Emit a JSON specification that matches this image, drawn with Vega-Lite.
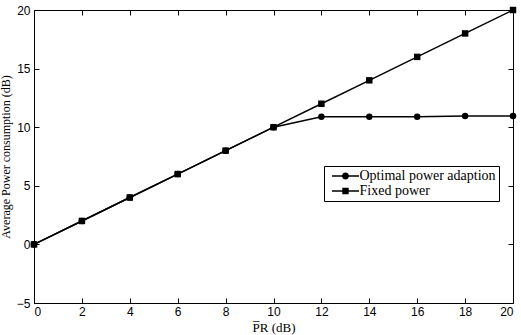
{
  "$schema": "https://vega.github.io/schema/vega-lite/v6.json",
  "width": 479,
  "height": 293,
  "autosize": {"type": "none"},
  "padding": {"left": 34, "top": 10, "right": 8, "bottom": 32},
  "background": "white",
  "config": {
    "view": {"stroke": "black", "strokeWidth": 1},
    "axis": {
      "grid": false,
      "domain": false,
      "ticks": true,
      "tickColor": "black",
      "tickWidth": 1,
      "tickSize": 5,
      "offset": -5,
      "labelFont": "Liberation Sans",
      "labelFontSize": 12,
      "labelColor": "black",
      "titleFont": "Liberation Serif",
      "titleFontSize": 13,
      "titleFontWeight": "normal",
      "titleColor": "black"
    },
    "legend": {
      "orient": "none",
      "legendX": 290,
      "legendY": 156,
      "strokeColor": "black",
      "fillColor": "white",
      "padding": 3,
      "rowPadding": 1,
      "symbolSize": 100,
      "symbolOffset": 11.5,
      "symbolFillColor": "black",
      "symbolStrokeWidth": 0,
      "labelFont": "Liberation Serif",
      "labelFontSize": 14,
      "labelColor": "black",
      "labelOffset": 7,
      "title": null
    }
  },
  "datasets": {
    "main": [
      {"x": 0, "y": 0, "series": "Optimal power adaption"},
      {"x": 2, "y": 2, "series": "Optimal power adaption"},
      {"x": 4, "y": 4, "series": "Optimal power adaption"},
      {"x": 6, "y": 6, "series": "Optimal power adaption"},
      {"x": 8, "y": 8, "series": "Optimal power adaption"},
      {"x": 10, "y": 10, "series": "Optimal power adaption"},
      {"x": 12, "y": 10.9, "series": "Optimal power adaption"},
      {"x": 14, "y": 10.9, "series": "Optimal power adaption"},
      {"x": 16, "y": 10.9, "series": "Optimal power adaption"},
      {"x": 18, "y": 10.95, "series": "Optimal power adaption"},
      {"x": 20, "y": 10.95, "series": "Optimal power adaption"},
      {"x": 0, "y": 0, "series": "Fixed power"},
      {"x": 2, "y": 2, "series": "Fixed power"},
      {"x": 4, "y": 4, "series": "Fixed power"},
      {"x": 6, "y": 6, "series": "Fixed power"},
      {"x": 8, "y": 8, "series": "Fixed power"},
      {"x": 10, "y": 10, "series": "Fixed power"},
      {"x": 12, "y": 12, "series": "Fixed power"},
      {"x": 14, "y": 14, "series": "Fixed power"},
      {"x": 16, "y": 16, "series": "Fixed power"},
      {"x": 18, "y": 18, "series": "Fixed power"},
      {"x": 20, "y": 20, "series": "Fixed power"}
    ],
    "legend": [
      {"x": -50, "y": 0, "series": "Optimal power adaption"},
      {"x": -50, "y": 0, "series": "Fixed power"}
    ]
  },
  "layer": [
    {
      "data": {"name": "main"},
      "mark": {"type": "line", "color": "black", "strokeWidth": 1.5},
      "encoding": {
        "x": {"field": "x", "type": "quantitative", "scale": {"domain": [0, 20], "nice": false},
              "axis": {"values": [0,2,4,6,8,10,12,14,16,18,20], "title": "P̅R (dB)", "labelPadding": 3, "titlePadding": 4}},
        "y": {"field": "y", "type": "quantitative", "scale": {"domain": [-5, 20], "nice": false, "zero": false},
              "axis": {"values": [-5,0,5,10,15,20], "title": "Average Power consumption (dB)", "labelPadding": 4, "titlePadding": 4, "titleFontSize": 12}},
        "detail": {"field": "series"},
        "order": {"field": "x"}
      }
    },
    {
      "data": {"name": "main"},
      "mark": {"type": "point", "filled": true, "color": "black", "opacity": 1, "size": 42},
      "encoding": {
        "x": {"field": "x", "type": "quantitative", "axis": null},
        "y": {"field": "y", "type": "quantitative", "axis": null},
        "shape": {"field": "series", "type": "nominal",
                  "scale": {"domain": ["Optimal power adaption", "Fixed power"], "range": ["circle", "square"]},
                  "legend": null}
      }
    },
    {
      "data": {"name": "legend"},
      "mark": {"type": "point", "filled": true, "color": "black", "opacity": 1, "clip": true},
      "encoding": {
        "x": {"field": "x", "type": "quantitative",
              "axis": {"orient": "top", "labels": false, "labelOpacity": 0, "title": null, "values": [0,2,4,6,8,10,12,14,16,18,20]}},
        "y": {"field": "y", "type": "quantitative",
              "axis": {"orient": "right", "labels": false, "labelOpacity": 0, "title": null, "values": [-5,0,5,10,15,20]}},
        "shape": {"field": "series", "type": "nominal",
                  "scale": {"domain": ["Optimal power adaption", "Fixed power"],
                            "range": ["M-2.7,-0.15H2.7V0.15H-2.7Z M0.7,0A0.7,0.7 0 1,1 -0.7,0A0.7,0.7 0 1,1 0.7,0Z",
                                      "M-2.7,-0.15H2.7V0.15H-2.7Z M-0.64,-0.64H0.64V0.64H-0.64Z"]},
                  "legend": {}}
      }
    }
  ],
  "resolve": {"scale": {"shape": "independent"}, "axis": {"x": "independent", "y": "independent"}}
}
